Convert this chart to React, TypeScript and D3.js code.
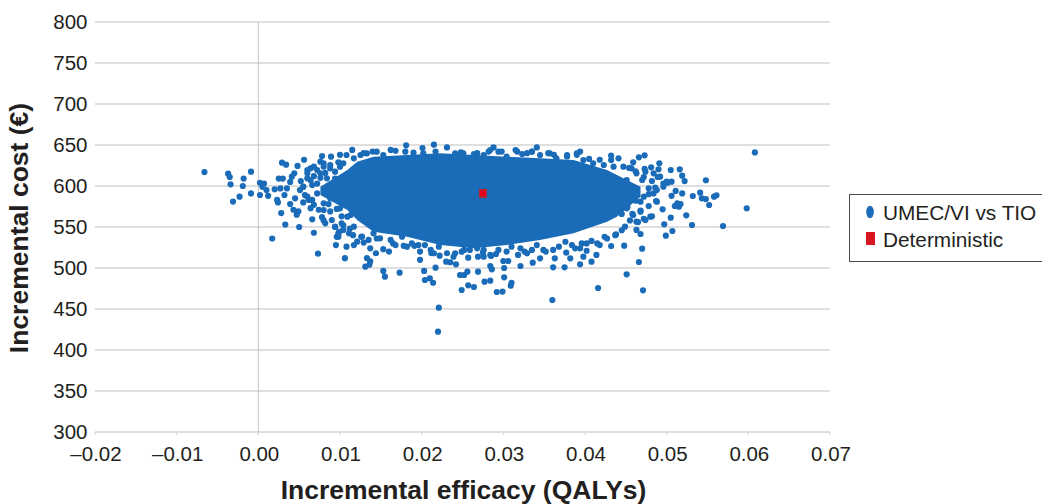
import React from 'react';
import * as d3 from 'd3';

const xTicks = [-0.02, -0.01, 0, 0.01, 0.02, 0.03, 0.04, 0.05, 0.06, 0.07];
const yTicks = [300, 350, 400, 450, 500, 550, 600, 650, 700, 750, 800];

// points that can be told apart in the picture, [efficacy, cost]
const leftTail = [
  [-0.0066, 617], [-0.0037, 615], [-0.0035, 611], [-0.0034, 602], [-0.0009, 617.5], [-0.0018, 609],
  [-0.0019, 600], [-0.0023, 587], [-0.0031, 581], [-0.0009, 591], [0.0002, 589], [0.0012, 588],
  [0.0002, 604], [0.0007, 603], [0.0005, 599], [0.001, 595], [0.002, 596], [0.0027, 597],
  [0.0029, 628.5], [0.0034, 626], [0.0048, 624.5], [0.0056, 632], [0.0044, 615.5], [0.0041, 611.4],
  [0.0025, 609], [0.003, 609], [0.0039, 605], [0.0035, 597], [0.0032, 589], [0.0023, 583],
  [0.0024, 580], [0.0039, 578], [0.0045, 585], [0.0055, 580], [0.0028, 567], [0.0033, 553],
  [0.005, 550], [0.0017, 536], [0.0068, 543], [0.0073, 517.5], [0.0043, 571], [0.0049, 569],
  [0.0047, 565], [0.0066, 559.4], [0.0064, 573], [0.0074, 571], [0.0078, 562], [0.0082, 554.5],
  [0.0088, 569], [0.009, 558.5], [0.008, 558], [0.0064, 621.6], [0.0072, 619.5], [0.006, 615.5],
  [0.0064, 607], [0.0072, 603], [0.0055, 599], [0.0051, 595], [0.0057, 589], [0.0062, 583],
  [0.0068, 577], [0.008, 627.6], [0.0088, 621.6], [0.01, 623.5], [0.0106, 611], [0.0078, 636.6],
  [0.0089, 635.8], [0.01, 638], [0.0108, 637.8], [0.0115, 644], [0.0076, 629.7], [0.0098, 628.9],
  [0.0052, 606], [0.0068, 612], [0.0076, 610], [0.0082, 616], [0.0094, 609], [0.0086, 578],
  [0.0096, 572], [0.0102, 563], [0.0094, 550], [0.0104, 552], [0.0112, 548], [0.0099, 544],
  [0.0055, 599.2], [0.006, 587], [0.0066, 583], [0.0072, 591], [0.008, 578.9], [0.0088, 585],
  [0.0096, 587], [0.01, 572.8], [0.0109, 562.6], [0.0102, 554.5], [0.0113, 564.6], [0.0094, 550.4],
  [0.0098, 542.3], [0.008, 570.7], [0.006, 609.4], [0.0066, 601.2], [0.0076, 615.5], [0.0084, 609.4],
  [0.0094, 617.5], [0.01, 607.3], [0.0109, 613.4],
];
const lowerEdge = [
  [0.0096, 538], [0.0095, 528], [0.0108, 526], [0.0117, 528], [0.0129, 531], [0.0137, 524],
  [0.0144, 518], [0.0153, 523], [0.016, 520], [0.0106, 512], [0.0133, 512], [0.0137, 508],
  [0.0131, 501.6], [0.0136, 504], [0.0153, 496.4], [0.0155, 489.4], [0.0173, 494.3], [0.0203, 496.4],
  [0.0204, 485.4], [0.021, 487.4], [0.0214, 482], [0.0217, 500.4], [0.0198, 510], [0.0198, 520],
  [0.0116, 540], [0.0126, 538], [0.0145, 536], [0.0165, 530], [0.0178, 527], [0.0191, 527],
  [0.0212, 518], [0.0222, 515], [0.023, 507.7], [0.0235, 507], [0.0242, 504.5], [0.0247, 491.5],
  [0.0252, 491.5], [0.0256, 495.5], [0.0269, 495.5], [0.0284, 502.4], [0.0286, 498.4], [0.0257, 512.6],
  [0.0269, 513.8], [0.0276, 513.8], [0.0285, 514.6], [0.03, 508.5], [0.0306, 508.5], [0.0301, 500],
  [0.0321, 502.4], [0.0336, 506.5], [0.0345, 511.8], [0.0363, 511.8], [0.0377, 518.7], [0.0382, 511.8],
  [0.0398, 513.8], [0.0414, 515.9], [0.0402, 521], [0.0418, 528], [0.0361, 500.8], [0.0375, 500.8],
  [0.0394, 504.5], [0.0408, 507.7], [0.0241, 518], [0.0252, 522], [0.0275, 519], [0.0291, 517],
  [0.0318, 516], [0.0326, 520], [0.0335, 522], [0.0352, 520], [0.0368, 526], [0.0388, 524],
  [0.0396, 530], [0.0408, 533], [0.0424, 538], [0.0432, 526.8], [0.0438, 541],
  [0.0098, 538.2], [0.0104, 546.4], [0.0111, 542.3], [0.0117, 550.4], [0.0121, 532.1], [0.0127, 538.2],
  [0.0135, 534.2], [0.0141, 542.3], [0.0149, 536.2], [0.0162, 534.2], [0.0168, 528], [0.0176, 538.2],
  [0.0182, 526], [0.0188, 530], [0.0196, 528], [0.0204, 528], [0.0211, 522], [0.0215, 517.9],
  [0.0221, 526], [0.0231, 518], [0.0239, 513.8], [0.0249, 519.9], [0.0259, 522], [0.0268, 524],
  [0.0276, 522], [0.0284, 515.9], [0.0294, 522], [0.0304, 520], [0.031, 526], [0.0321, 524],
  [0.0329, 517.9], [0.0341, 528], [0.0349, 522], [0.0361, 522], [0.0376, 532], [0.0384, 528],
  [0.0394, 524], [0.0402, 530], [0.0415, 530], [0.0427, 536], [0.0437, 540], [0.0445, 546],
];
const lowTail = [
  [0.0221, 451.6], [0.022, 422.4], [0.0301, 488.6], [0.031, 482], [0.0309, 478.5], [0.0299, 471.2],
  [0.0292, 470.7], [0.0284, 484.6], [0.0277, 483.3], [0.0264, 476.8], [0.0257, 478.9], [0.0249, 473.2],
  [0.036, 461], [0.0416, 475.6], [0.0451, 492.3], [0.0471, 472.8], [0.0466, 507.3], [0.047, 523.6],
  [0.0448, 527.2],
];
const upperEdge = [
  [0.0129, 640], [0.014, 642], [0.0162, 644], [0.0181, 649.6], [0.0201, 646.3], [0.0215, 650.4],
  [0.0217, 642], [0.0231, 647], [0.0248, 641], [0.0268, 640], [0.0288, 647], [0.0298, 642],
  [0.0282, 642], [0.0317, 642], [0.0329, 640], [0.0341, 647], [0.0335, 642], [0.0355, 640],
  [0.0362, 638], [0.0378, 636], [0.0394, 642], [0.039, 638], [0.0405, 633], [0.0418, 632],
  [0.0432, 637], [0.0432, 631.7], [0.0441, 633.7], [0.0459, 628.9], [0.0466, 635], [0.0473, 637.4],
  [0.0454, 622], [0.0462, 618], [0.0473, 621], [0.0481, 622.8], [0.049, 620.3], [0.0491, 627.6],
  [0.006, 619.5], [0.0068, 623.6], [0.008, 623.6], [0.0088, 625.6], [0.0104, 627.6], [0.0117, 633.7],
  [0.0125, 637.8], [0.0133, 639.8], [0.0145, 641.9], [0.0153, 637.8], [0.0168, 643], [0.018, 641.9],
  [0.019, 640.7], [0.0202, 639.8], [0.0241, 639.8], [0.0251, 639.8], [0.0264, 639], [0.0276, 637.8],
  [0.0284, 643.9], [0.0294, 641.9], [0.0304, 635.8], [0.0315, 643.9], [0.0323, 639], [0.0335, 641.9],
  [0.0345, 637.8], [0.0357, 639.8], [0.0365, 633.7], [0.0378, 637.8], [0.039, 639.8], [0.0398, 631.7],
  [0.041, 627.6], [0.0423, 625.6], [0.0435, 623.6], [0.0447, 623.6],
];
const rightTail = [
  [0.0608, 641], [0.0598, 572.8], [0.0569, 551.2], [0.0531, 552.4], [0.0552, 576.8], [0.0561, 588.6],
  [0.0558, 587], [0.0548, 607], [0.0541, 591.9], [0.0532, 587.8], [0.0543, 585], [0.0548, 584],
  [0.0519, 591], [0.0511, 594], [0.0506, 588], [0.0522, 606], [0.0519, 612.6], [0.0516, 620.3],
  [0.0505, 619.5], [0.0513, 578.9], [0.0517, 578], [0.051, 575.6], [0.0515, 574.8], [0.0524, 564.2],
  [0.0505, 561.4], [0.0497, 553.3], [0.0507, 545.1], [0.0499, 539.4], [0.0495, 571.5], [0.0487, 581.7],
  [0.0478, 575.6], [0.0468, 541.5], [0.0463, 546.4], [0.0449, 550.4], [0.0465, 556], [0.0472, 560],
  [0.0482, 563], [0.0458, 566], [0.0468, 570], [0.0478, 590], [0.0486, 598], [0.0496, 603],
  [0.0482, 606], [0.0472, 611], [0.0501, 604], [0.0489, 611], [0.0462, 582], [0.0452, 574],
  [0.0445, 566], [0.0455, 558], [0.0443, 570.7], [0.0451, 572.8], [0.0459, 564.6], [0.0468, 568.7],
  [0.0463, 556.5], [0.0474, 558.5], [0.048, 562.6], [0.0488, 580.9], [0.0484, 591], [0.0478, 597.2],
  [0.047, 607.3], [0.0474, 617.5], [0.0463, 615.5], [0.0484, 615.5], [0.0492, 611.4], [0.05, 605.3],
  [0.0506, 605.3], [0.0496, 599.2], [0.0488, 595.1], [0.0468, 580.9], [0.0472, 587], [0.0451, 607.3],
  [0.0457, 621.5],
];

// middle of the cloud, where the markers merge into one solid shape:
// outline, [efficacy, lowest cost, highest cost]
const solidCloud = [
  [0.0076, 589, 599], [0.0109, 570.7, 619.5], [0.0121, 558.5, 629.7], [0.0141, 544.3, 635.8],
  [0.0182, 538.2, 637.8], [0.0223, 528, 639.8], [0.0264, 524, 637.8], [0.0304, 528, 635.8],
  [0.0345, 534, 633.7], [0.0386, 542.3, 631.7], [0.0427, 556.5, 619.5], [0.0439, 562.6, 613.4],
  [0.0468, 587, 599],
];

const deterministic = [[0.0275, 591]];

const blue = '#1b6cb8';
const ink = '#231f20';
const grid = '#d4d4d4';
const sans = '"Liberation Sans", Arial, sans-serif';

const x = d3.scaleLinear().domain([-0.02, 0.07]).range([95, 830]);
const y = d3.scaleLinear().domain([300, 800]).range([432, 22]);

const cloudArea = d3
  .area<number[]>()
  .x((d) => x(d[0]))
  .y0((d) => y(d[1]))
  .y1((d) => y(d[2]));

const marker = d3.symbol().type(d3.symbolCircle).size(30)();
const scatter = [...leftTail, ...lowerEdge, ...lowTail, ...upperEdge, ...rightTail];

const fmtX = (v: number) => (v < 0 ? '–' : '') + Math.abs(v).toFixed(2);

export default function App() {
  return (
    <svg
      width={1042}
      height={504}
      style={{ position: 'absolute', left: 0, top: 0, background: '#fff' }}
    >
      {yTicks.map((t) => (
        <line key={t} x1={x(-0.02)} x2={x(0.07)} y1={y(t)} y2={y(t)} stroke={grid} strokeWidth={1.5} />
      ))}
      <line x1={x(0)} x2={x(0)} y1={y(800)} y2={y(300) + 3} stroke="#c4c4c4" strokeWidth={1} />
      {xTicks.map((t) => (
        <line key={t} x1={x(t)} x2={x(t)} y1={y(300)} y2={y(300) + 3} stroke={grid} strokeWidth={1} />
      ))}

      <path d={cloudArea(solidCloud) ?? ''} fill={blue} />
      {scatter.map((d, i) => (
        <path key={i} d={marker ?? ''} transform={`translate(${x(d[0])},${y(d[1])})`} fill={blue} />
      ))}
      {deterministic.map((d, i) => (
        <g key={i}>
          <rect x={x(d[0]) - 4} y={y(d[1]) - 4.5} width={8} height={9} fill="#b5262e" />
          <rect x={x(d[0]) - 3} y={y(d[1]) - 2.5} width={6} height={5} fill="#e2001a" />
        </g>
      ))}

      <g fontFamily={sans} fontSize={20.5} fill={ink}>
        {yTicks.map((t) => (
          <text key={t} x={87.5} y={y(t)} dy="0.36em" textAnchor="end">
            {t}
          </text>
        ))}
        {xTicks.map((t) => (
          <text key={t} x={x(t) + 1} y={461} textAnchor="middle">
            {fmtX(t)}
          </text>
        ))}
      </g>

      <text x={463.5} y={499} textAnchor="middle" fontFamily={sans} fontSize={26.5} fontWeight="bold" fill={ink}>
        Incremental efficacy (QALYs)
      </text>
      <text
        transform="translate(28,228) rotate(-90)"
        textAnchor="middle"
        fontFamily={sans}
        fontSize={26.5}
        fontWeight="bold"
        fill={ink}
      >
        Incremental cost (€)
      </text>

      <rect x={849.5} y={194.5} width={200} height={67} fill="#fff" stroke="#4a4a4a" strokeWidth={1} />
      <ellipse cx={870} cy={212} rx={3.8} ry={6.2} fill={blue} />
      <rect x={866} y={232} width={9} height={13} fill="#d7161f" />
      <g fontFamily={sans} fontSize={20.8} fill={ink}>
        <text x={883} y={219.5}>UMEC/VI vs TIO</text>
        <text x={883} y={246.5}>Deterministic</text>
      </g>
    </svg>
  );
}
